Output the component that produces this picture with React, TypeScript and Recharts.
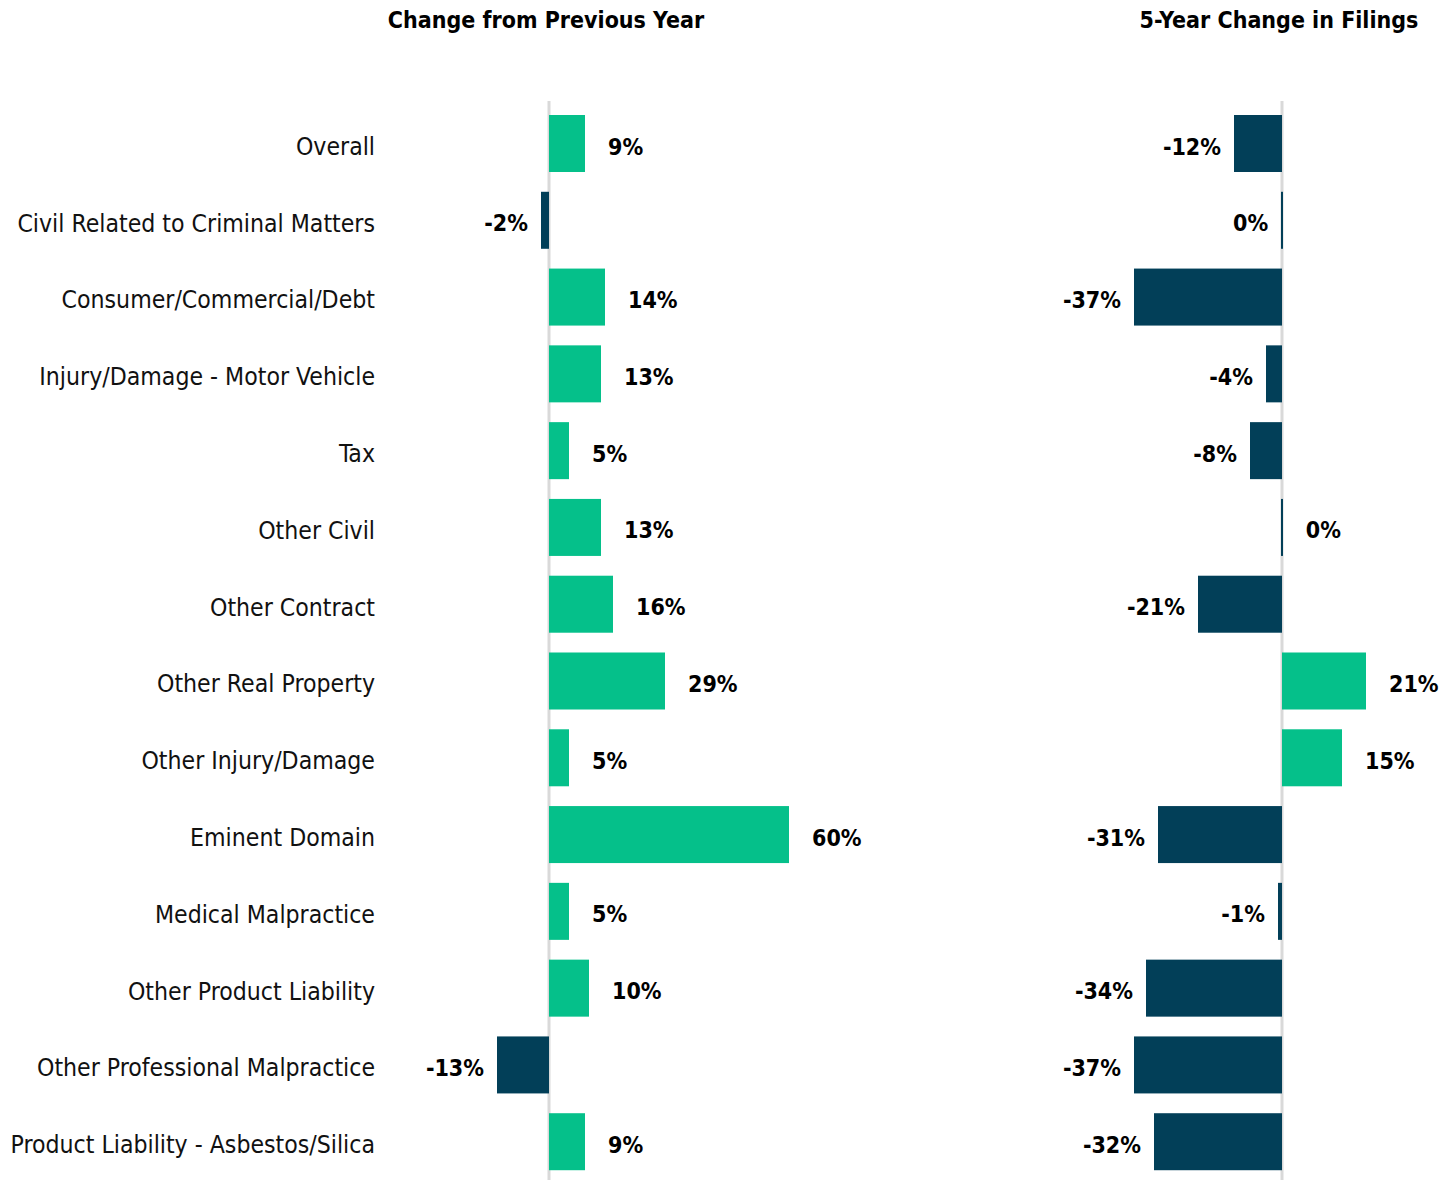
import React from 'react';
import { BarChart, Bar, XAxis, YAxis, Cell, LabelList, ReferenceLine } from 'recharts';

const categories = [
  'Overall',
  'Civil Related to Criminal Matters',
  'Consumer/Commercial/Debt',
  'Injury/Damage - Motor Vehicle',
  'Tax',
  'Other Civil',
  'Other Contract',
  'Other Real Property',
  'Other Injury/Damage',
  'Eminent Domain',
  'Medical Malpractice',
  'Other Product Liability',
  'Other Professional Malpractice',
  'Product Liability - Asbestos/Silica',
];

const prevYearChange = [9, -2, 14, 13, 5, 13, 16, 29, 5, 60, 5, 10, -13, 9];
const fiveYearChange = [-12, -0.2, -37, -4, -8, 0.2, -21, 21, 15, -31, -1, -34, -37, -32];

const panelTitles = ['Change from Previous Year', '5-Year Change in Filings'];

const GREEN = '#05C08A';
const NAVY = '#023F58';
const GRID = '#D9D9D9';
const FONT = "'Liberation Sans Narrow', 'DejaVu Sans Condensed', 'Roboto', sans-serif";

const leftData = categories.map((c, i) => ({ category: c, value: prevYearChange[i] }));
const rightData = categories.map((c, i) => ({ category: c, value: fiveYearChange[i] }));

const colorFor = (v: number) => (v >= 1 ? GREEN : NAVY);

const BarShape = (props: any) => {
  const { x, y, width, height, payload } = props;
  let left = Math.min(x, x + width);
  let w = Math.abs(width);
  if (w < 2) {
    left = x - 1;
    w = 2;
  }
  return <rect x={left} y={y} width={w} height={height} fill={colorFor(payload.value)} />;
};

const ValueLabel = (props: any) => {
  const { x, y, width, height, value } = props;
  const v = Number(value);
  const text = `${Math.round(v) === 0 ? 0 : Math.round(v)}%`;
  const cy = y + height / 2 + 3;
  if (v >= 0) {
    return (
      <text x={Math.max(x, x + width) + 23} y={cy} textAnchor="start" dominantBaseline="central"
        fontFamily={FONT} fontWeight="bold" fontSize={23} fill="#000">{text}</text>
    );
  }
  return (
    <text x={Math.min(x, x + width) - 13} y={cy} textAnchor="end" dominantBaseline="central"
      fontFamily={FONT} fontWeight="bold" fontSize={23} fill="#000">{text}</text>
  );
};

const CategoryTick = (props: any) => {
  const { x, y, payload } = props;
  return (
    <text x={x} y={y + 3} textAnchor="end" dominantBaseline="central" fontFamily={FONT} fontSize={24.6} fill="#111">
      {payload.value}
    </text>
  );
};

export default function App() {
  return (
    <div style={{ position: 'absolute', left: 0, top: 0, width: 1455, height: 1180, background: '#fff' }}>
      <div style={{ position: 'absolute', left: 346, top: 0, width: 400, lineHeight: '40px', textAlign: 'center',
        fontFamily: FONT, fontWeight: 'bold', fontSize: 23, color: '#000' }}>{panelTitles[0]}</div>
      <div style={{ position: 'absolute', left: 1079, top: 0, width: 400, lineHeight: '40px', textAlign: 'center',
        fontFamily: FONT, fontWeight: 'bold', fontSize: 23, color: '#000' }}>{panelTitles[1]}</div>

      <div style={{ position: 'absolute', left: 0, top: 0 }}>
        <BarChart width={880} height={1180} data={leftData} layout="vertical"
          margin={{ top: 101, right: 11, bottom: 0, left: 0 }} barCategoryGap={0}>
          <XAxis type="number" domain={[-40, 80]} ticks={[0]} hide />
          <YAxis type="category" dataKey="category" width={389} axisLine={false} tickLine={false}
            tickSize={0} tickMargin={14} tick={<CategoryTick />} padding={{ top: 4, bottom: 0 }} interval={0} />
          <ReferenceLine x={0} stroke={GRID} strokeWidth={3} zIndex={-50} />
          <Bar dataKey="value" barSize={57} isAnimationActive={false} shape={<BarShape />}>
            {leftData.map((d, i) => <Cell key={i} fill={colorFor(d.value)} />)}
            <LabelList dataKey="value" content={<ValueLabel />} />
          </Bar>
        </BarChart>
      </div>

      <div style={{ position: 'absolute', left: 1042, top: 0 }}>
        <BarChart width={413} height={1180} data={rightData} layout="vertical"
          margin={{ top: 101, right: 13, bottom: 0, left: 0 }} barCategoryGap={0}>
          <XAxis type="number" domain={[-60, 40]} ticks={[0]} hide />
          <YAxis type="category" dataKey="category" hide padding={{ top: 4, bottom: 0 }} />
          <ReferenceLine x={0} stroke={GRID} strokeWidth={3} zIndex={-50} />
          <Bar dataKey="value" barSize={57} isAnimationActive={false} shape={<BarShape />}>
            {rightData.map((d, i) => <Cell key={i} fill={colorFor(d.value)} />)}
            <LabelList dataKey="value" content={<ValueLabel />} />
          </Bar>
        </BarChart>
      </div>
    </div>
  );
}
